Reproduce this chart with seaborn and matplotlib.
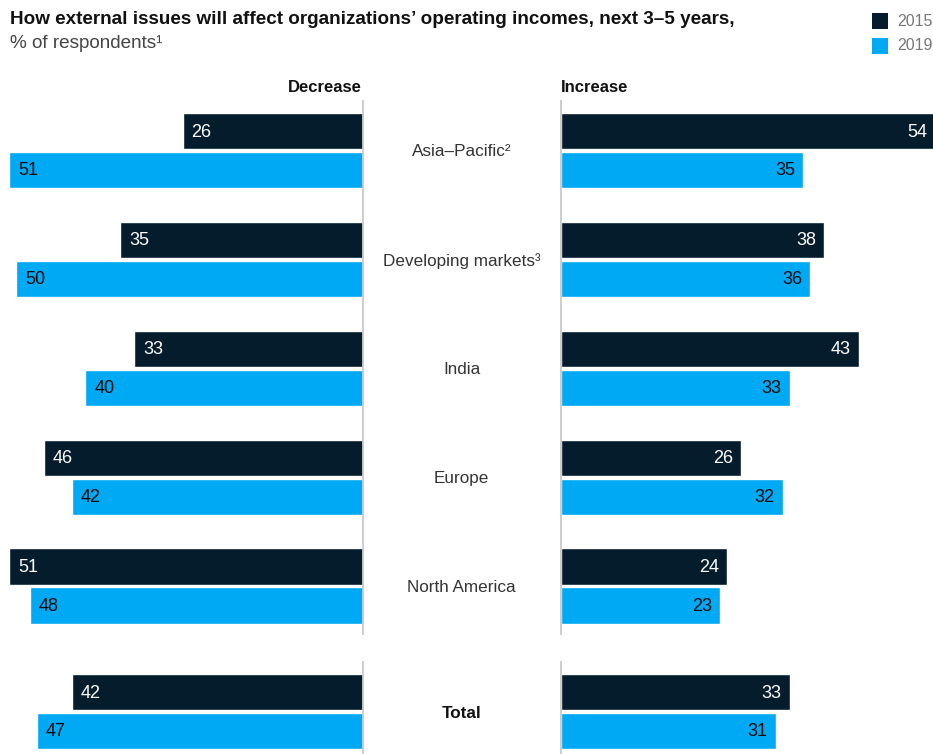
import matplotlib
matplotlib.use("Agg")
import matplotlib.pyplot as plt
from matplotlib.patches import Rectangle
from matplotlib.transforms import blended_transform_factory
import seaborn as sns
import pandas as pd

# Survey values, % of respondents
regions = ["Asia–Pacific²", "Developing markets³", "India", "Europe", "North America", "Total"]
years = ["2015", "2019"]
decrease_2015 = [26, 35, 33, 46, 51, 42]
decrease_2019 = [51, 50, 40, 42, 48, 47]
increase_2015 = [54, 38, 43, 26, 24, 33]
increase_2019 = [35, 36, 33, 32, 23, 31]

NAVY = "#051c2c"
CYAN = "#00a9f4"
palette = {"2015": NAVY, "2019": CYAN}

rows = []
for i, r in enumerate(regions):
    rows.append((r, "2015", "Decrease", decrease_2015[i]))
    rows.append((r, "2019", "Decrease", decrease_2019[i]))
    rows.append((r, "2015", "Increase", increase_2015[i]))
    rows.append((r, "2019", "Increase", increase_2019[i]))
df = pd.DataFrame(rows, columns=["region", "year", "direction", "value"])

sns.set_theme(style="white")
plt.rcParams["font.family"] = ["Liberation Sans", "DejaVu Sans"]

W, H = 933, 754
fig = plt.figure(figsize=(W / 100, H / 100), dpi=100)

def fx(px):
    return px / W

def fy(px):
    return 1 - px / H

x_zero_left = 363
x_zero_right = 560.5
px_per_unit = 6.94
top_y0, top_y1 = 101, 634
bot_y0, bot_y1 = 662, 754
step = 108.9
first_center = 150.5
total_center = 711.5

ax_lt = fig.add_axes([0, fy(top_y1), fx(x_zero_left), fy(top_y0) - fy(top_y1)])
ax_rt = fig.add_axes([fx(x_zero_right), fy(top_y1), 1 - fx(x_zero_right), fy(top_y0) - fy(top_y1)])
ax_lb = fig.add_axes([0, fy(bot_y1), fx(x_zero_left), fy(bot_y0) - fy(bot_y1)])
ax_rb = fig.add_axes([fx(x_zero_right), fy(bot_y1), 1 - fx(x_zero_right), fy(bot_y0) - fy(bot_y1)])

main = regions[:5]
total = regions[5:]

panels = [
    (ax_lt, "Decrease", main, "left"),
    (ax_rt, "Increase", main, "right"),
    (ax_lb, "Decrease", total, "left"),
    (ax_rb, "Increase", total, "right"),
]

for ax, direction, cats, side in panels:
    sub = df[(df["direction"] == direction) & (df["region"].isin(cats))]
    sns.barplot(data=sub, y="region", x="value", hue="year", order=cats,
                hue_order=years, palette=palette, orient="h", width=0.716,
                gap=0.07, saturation=1, legend=False, errorbar=None, ax=ax)
    n = len(cats)
    if n > 1:
        ax.set_ylim((top_y1 - first_center) / step, (top_y0 - first_center) / step)
    else:
        ax.set_ylim((bot_y1 - total_center) / step, (bot_y0 - total_center) / step)
    if side == "left":
        ax.set_xlim(x_zero_left / px_per_unit, 0)
    else:
        ax.set_xlim(0, (W - x_zero_right) / px_per_unit)
    ax.set_xlabel("")
    ax.set_ylabel("")
    ax.set_xticks([])
    ax.set_yticks([])
    for s in ax.spines.values():
        s.set_visible(False)
    spine = ax.spines["right" if side == "left" else "left"]
    spine.set_visible(True)
    spine.set_color("#c9c9c9")
    spine.set_linewidth(1.3)
    ax.patch.set_alpha(0)

    # value labels inside the outer end of each bar
    for yr, cont in zip(years, ax.containers):
        txt_color = "white" if yr == "2015" else "#0a0a0a"
        for bar in cont:
            val = bar.get_width()
            yc = bar.get_y() + bar.get_height() / 2
            if side == "left":
                ax.annotate(f"{val:.0f}", xy=(val, yc), xytext=(9, -1),
                            textcoords="offset pixels", ha="left", va="center",
                            color=txt_color, fontsize=13, annotation_clip=False)
            else:
                ax.annotate(f"{val:.0f}", xy=(val, yc), xytext=(-8, -1),
                            textcoords="offset pixels", ha="right", va="center",
                            color=txt_color, fontsize=13, annotation_clip=False)

# region names in the gutter between the two panels
mid_x = fx((x_zero_left + x_zero_right) / 2)
for ax, cats in [(ax_lt, main), (ax_lb, total)]:
    tr = blended_transform_factory(fig.transFigure, ax.transData)
    for i, c in enumerate(cats):
        bold = c == "Total"
        ax.annotate(c, xy=(mid_x, i), xycoords=tr, xytext=(0, -1.5),
                    textcoords="offset pixels", ha="center", va="center",
                    fontsize=12.3, color="#111111" if bold else "#333333",
                    fontweight="bold" if bold else "normal",
                    annotation_clip=False)

# headers
fig.text(fx(362), fy(87), "Decrease", ha="right", va="center",
         fontsize=12, fontweight="bold", color="#111111")
fig.text(fx(561), fy(87), "Increase", ha="left", va="center",
         fontsize=12, fontweight="bold", color="#111111")

# title and subtitle
fig.text(fx(10), fy(20), "How external issues will affect organizations’ operating incomes, next 3–5 years,",
         ha="left", va="center", fontsize=13.6, fontweight="bold", color="#111111")
fig.text(fx(10), fy(44), "% of respondents¹", ha="left", va="center",
         fontsize=13.6, color="#444444")

# legend
for k, yr in enumerate(years):
    y_top = 13 + k * 25
    fig.patches.append(Rectangle((fx(872), fy(y_top + 16)), fx(16), fy(y_top) - fy(y_top + 16),
                                 transform=fig.transFigure, facecolor=palette[yr],
                                 edgecolor="none"))
    fig.text(fx(897), fy(y_top + 8), yr, ha="left", va="center",
             fontsize=11.5, color="#777777")

fig.savefig("out.png", dpi=100)
